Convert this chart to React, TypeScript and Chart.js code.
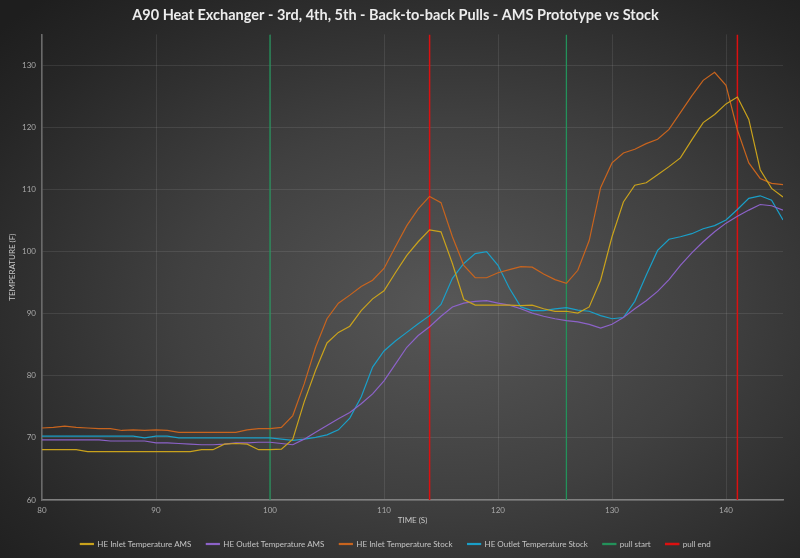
import { useEffect, useRef } from 'react';
import { Chart, registerables, type ChartConfiguration } from 'chart.js';

Chart.register(...registerables);

const TITLE = 'A90 Heat Exchanger - 3rd, 4th, 5th - Back-to-back Pulls - AMS Prototype vs Stock';

const TIME = [
  80, 81, 82, 83, 84, 85, 86, 87, 88, 89, 90, 91, 92, 93, 94, 95, 96, 97, 98, 99,
  100, 101, 102, 103, 104, 105, 106, 107, 108, 109, 110, 111, 112, 113, 114, 115,
  116, 117, 118, 119, 120, 121, 122, 123, 124, 125, 126, 127, 128, 129, 130, 131,
  132, 133, 134, 135, 136, 137, 138, 139, 140, 141, 142, 143, 144, 145,
];

const INLET_AMS = [
  68.1, 68.1, 68.1, 68.1, 67.8, 67.8, 67.8, 67.8, 67.8, 67.8, 67.8, 67.8, 67.8, 67.8, 68.1, 68.1, 69.0, 69.1, 69.0, 68.1,
  68.1, 68.2, 69.8, 75.8, 80.9, 85.3, 87.0, 88.0, 90.5, 92.4, 93.7, 96.6, 99.4, 101.6, 103.5, 103.2,
  98.1, 92.3, 91.4, 91.4, 91.4, 91.4, 91.3, 91.4, 90.8, 90.4, 90.4, 90.1, 91.1, 95.4, 102.4, 108.0,
  110.7, 111.1, 112.4, 113.7, 115.1, 118.0, 120.8, 122.1, 123.8, 124.9, 121.3, 113.2, 110.2, 108.8,
];

const OUTLET_AMS = [
  69.7, 69.7, 69.7, 69.7, 69.7, 69.7, 69.5, 69.5, 69.5, 69.5, 69.2, 69.2, 69.1, 69.0, 68.9, 68.9, 69.0, 69.2, 69.2, 69.3,
  69.3, 69.1, 68.9, 69.8, 70.9, 72.0, 73.1, 74.1, 75.5, 77.1, 79.2, 81.9, 84.6, 86.5, 87.9, 89.6,
  91.1, 91.7, 92.0, 92.1, 91.7, 91.4, 90.8, 90.1, 89.6, 89.2, 88.9, 88.7, 88.3, 87.7, 88.3, 89.4,
  90.8, 92.1, 93.6, 95.5, 97.8, 99.8, 101.6, 103.2, 104.6, 105.7, 106.7, 107.6, 107.4, 106.7,
];

const INLET_STOCK = [
  71.6, 71.7, 71.9, 71.7, 71.6, 71.5, 71.5, 71.2, 71.3, 71.2, 71.3, 71.2, 70.9, 70.9, 70.9, 70.9, 70.9, 70.9, 71.3, 71.5,
  71.5, 71.7, 73.6, 78.7, 84.6, 89.2, 91.7, 93.0, 94.4, 95.4, 97.3, 100.8, 104.2, 106.9, 108.9, 107.9,
  102.4, 97.8, 95.8, 95.8, 96.6, 97.1, 97.6, 97.5, 96.4, 95.5, 94.9, 97.0, 101.8, 110.3, 114.3, 115.9,
  116.5, 117.4, 118.1, 119.7, 122.4, 125.1, 127.6, 128.9, 126.8, 119.6, 114.3, 111.8, 111.0, 110.8,
];

const OUTLET_STOCK = [
  70.3, 70.3, 70.3, 70.3, 70.3, 70.3, 70.3, 70.3, 70.3, 70.0, 70.3, 70.3, 70.0, 70.0, 70.0, 70.0, 70.0, 70.0, 70.0, 70.0,
  70.0, 69.8, 69.6, 69.8, 70.1, 70.5, 71.3, 73.2, 76.6, 81.4, 84.0, 85.6, 87.0, 88.4, 89.7, 91.5,
  95.7, 98.1, 99.7, 100.0, 97.8, 94.1, 91.1, 90.5, 90.5, 90.8, 91.0, 90.6, 90.4, 89.7, 89.2, 89.4,
  92.0, 96.2, 100.2, 102.0, 102.4, 102.9, 103.7, 104.2, 105.1, 106.8, 108.6, 109.0, 108.3, 105.1,
];

const PULL_START = [100, 126];
const PULL_END = [114, 141];

const Y_MIN = 60;
const Y_MAX = 135;
const X_MIN = 80;
const X_MAX = 145;

const FONT = 'Lato, "Open Sans", sans-serif';

function series(values: number[]) {
  return TIME.map((t, i) => ({ x: t, y: values[i] }));
}

// vertical marker lines, broken by a null point between each one
function markers(times: number[]) {
  const pts: { x: number; y: number | null }[] = [];
  times.forEach((t, i) => {
    if (i > 0) pts.push({ x: t, y: null });
    pts.push({ x: t, y: Y_MIN }, { x: t, y: Y_MAX });
  });
  return pts;
}

export default function App() {
  const canvasRef = useRef<HTMLCanvasElement | null>(null);

  useEffect(() => {
    const canvas = canvasRef.current;
    if (!canvas) return;

    const line = (label: string, color: string, data: any, width = 1.2) => ({
      label,
      data,
      borderColor: color,
      backgroundColor: color,
      borderWidth: width,
      pointRadius: 0,
      tension: 0,
      spanGaps: false,
    });

    const onlyTens = (axis: any) => {
      axis.ticks = axis.ticks.filter((t: any) => t.value % 10 === 0);
    };

    const config: ChartConfiguration<'line'> = {
      type: 'line',
      data: {
        datasets: [
          line('HE Inlet Temperature AMS', '#c9a21c', series(INLET_AMS)),
          line('HE Outlet Temperature AMS', '#8c62c8', series(OUTLET_AMS)),
          line('HE Inlet Temperature Stock', '#c8641e', series(INLET_STOCK)),
          line('HE Outlet Temperature Stock', '#1a9fc8', series(OUTLET_STOCK)),
          line('pull start', '#23915a', markers(PULL_START), 1.3),
          line('pull end', '#dc1010', markers(PULL_END), 1.5),
        ] as any,
      },
      options: {
        animation: false,
        responsive: false,
        parsing: false as any,
        layout: { padding: { left: 8, right: 17, top: 0, bottom: 0 } },
        plugins: {
          title: {
            display: true,
            text: TITLE,
            color: '#ececec',
            font: { family: FONT, size: 14.5, weight: 'bold' },
            padding: { top: 7, bottom: 10 },
          },
          legend: {
            position: 'bottom',
            labels: {
              color: '#c4c4c4',
              font: { family: FONT, size: 8 },
              boxWidth: 13,
              boxHeight: 1,
              padding: 15,
            },
          },
          tooltip: { enabled: false },
        },
        scales: {
          x: {
            type: 'linear',
            min: X_MIN,
            max: X_MAX,
            afterBuildTicks: onlyTens,
            afterFit: (s: any) => {
              s.height = 25;
            },
            ticks: {
              stepSize: 10,
              color: '#a8a8a8',
              font: { family: FONT, size: 8 },
              padding: 6,
            },
            grid: { color: 'rgba(255,255,255,0.09)', drawTicks: false },
            border: { color: '#808080', width: 1.5 },
            title: {
              display: true,
              text: 'TIME (S)',
              color: '#c8c8c8',
              font: { family: FONT, size: 8 },
              padding: { top: 2, bottom: 0 },
            },
          },
          y: {
            min: Y_MIN,
            max: Y_MAX,
            afterBuildTicks: onlyTens,
            afterFit: (s: any) => {
              s.width = 34;
            },
            ticks: {
              stepSize: 10,
              color: '#a8a8a8',
              font: { family: FONT, size: 8 },
              padding: 6,
            },
            grid: { color: 'rgba(255,255,255,0.09)', drawTicks: false },
            border: { color: '#6a6a6a', width: 1.5 },
            title: {
              display: true,
              text: 'TEMPERATURE (F)',
              color: '#c8c8c8',
              font: { family: FONT, size: 8 },
              padding: { top: 0, bottom: 2 },
            },
          },
        },
      },
    };

    const chart = new Chart(canvas, config);
    return () => chart.destroy();
  }, []);

  return (
    <div
      style={{
        position: 'fixed',
        left: 0,
        top: 0,
        width: 800,
        height: 558,
        background:
          'radial-gradient(ellipse 75% 75% at 56% 55%, #575757 0%, #404040 45%, #262626 85%, #1e1e1e 100%)',
      }}
    >
      <canvas ref={canvasRef} width={800} height={558} role='img' aria-label={TITLE} />
    </div>
  );
}
